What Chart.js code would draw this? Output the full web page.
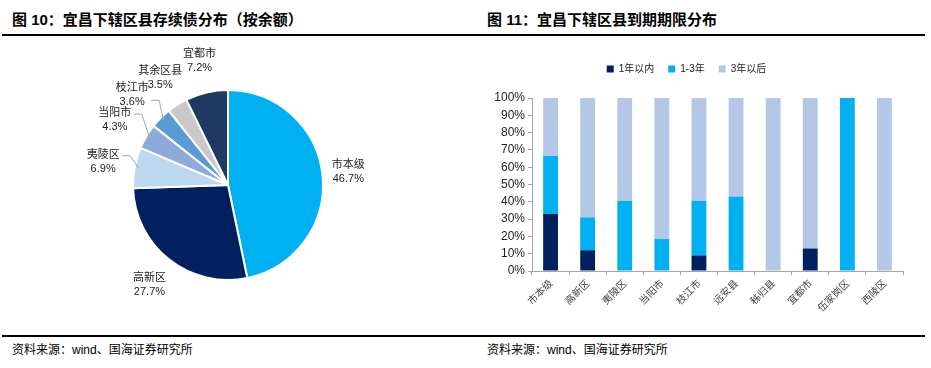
<!DOCTYPE html>
<html>
<head>
<meta charset="utf-8">
<script src="https://cdn.jsdelivr.net/npm/chart.js@4/dist/chart.umd.min.js"></script>
<style>
  body { margin: 0; background: #fff; width: 931px; height: 368px; position: relative; overflow: hidden;
         font-family: "Liberation Sans", "Noto Sans CJK SC", sans-serif; }
  .title { position: absolute; top: 8px; font-size: 15px; font-weight: bold; color: #000;
           font-family: "Liberation Sans", "Noto Sans CJK SC", sans-serif; }
  .src { position: absolute; top: 340px; font-size: 12px; color: #000; }
  .line { position: absolute; background: #000; }
  #pieBox { position: absolute; left: 0; top: 40px; width: 470px; height: 280px; }
  #barBox { position: absolute; left: 470px; top: 40px; width: 461px; height: 280px; }
</style>
</head>
<body>
<div class="title" style="left:12px">图 10：宜昌下辖区县存续债分布（按余额）</div>
<div class="title" style="left:487px">图 11：宜昌下辖区县到期期限分布</div>
<div class="line" style="left:2px; top:34px; width:923px; height:2px"></div>
<div class="line" style="left:2px; top:335px; width:923px; height:1.5px"></div>
<div class="src" style="left:12px">资料来源：wind、国海证券研究所</div>
<div class="src" style="left:487px">资料来源：wind、国海证券研究所</div>

<div id="pieBox"><canvas id="graficoPie"></canvas></div>
<div id="barBox"><canvas id="graficoBar"></canvas></div>

<script>
// 图10 存续债分布
const nomesPie = ['市本级', '高新区', '夷陵区', '当阳市', '枝江市', '其余区县', '宜都市'];
const valoresPie = [46.7, 27.7, 6.9, 4.3, 3.6, 3.5, 7.2];
const coresPie = ['#00B0F0', '#002060', '#BDD7EE', '#8EA9DB', '#5B9BD5', '#C9C9C9', '#203864'];

// 图11 到期期限分布
const categorias = ['市本级', '高新区', '夷陵区', '当阳市', '枝江市', '远安县', '秭归县', '宜都市', '伍家岗区', '西陵区'];
const ate1 = [33, 12, 0, 0, 9, 0, 0, 13, 0, 0];
const de1a3 = [33.5, 19, 40.5, 18.5, 31.5, 43, 0, 0, 100, 0];
const apos3 = [33.5, 69, 59.5, 81.5, 59.5, 57, 100, 87, 0, 100];
const ticksY = [0, 10, 20, 30, 40, 50, 60, 70, 80, 90, 100];

// rótulos do pie fora da fatia
const rotulosPie = {
  id: 'rotulosPie',
  afterDatasetsDraw(chart) {
    const ctx = chart.ctx;
    const arcs = chart.getDatasetMeta(0).data;
    ctx.save();
    arcs.forEach((arc, i) => {
      const mid = (arc.startAngle + arc.endAngle) / 2;
      const cx = arc.x, cy = arc.y, r = arc.outerRadius;
      const dx = Math.cos(mid), dy = Math.sin(mid);
      const lr = r + 32;
      const lx = cx + dx * lr - (i === 0 ? 6 : 0) - (i === 4 ? 6 : 0) - (i === 3 ? 4 : 0), ly = cy + dy * lr;
      // linha guia nas fatias pequenas
      if (i >= 2 && i <= 4) {
        const yl = i === 4 ? ly + 5 : ly - 6;
        const ex = cx + dx * (r - 4), ey = cy + dy * (r - 4);
        ctx.strokeStyle = '#A6A6A6';
        ctx.lineWidth = 1;
        ctx.beginPath();
        ctx.moveTo(lx + 19, yl);
        ctx.lineTo(lx + 27, yl);
        ctx.lineTo(ex, ey);
        ctx.stroke();
      }
      ctx.fillStyle = '#222';
      ctx.textAlign = 'center';
      ctx.textBaseline = 'middle';
      ctx.font = '11px "Noto Sans CJK SC", sans-serif';
      ctx.fillText(nomesPie[i], lx, ly - 8);
      ctx.font = '11px "Liberation Sans", sans-serif';
      ctx.fillText(valoresPie[i].toFixed(1) + '%', lx, ly + 7);
    });
    ctx.restore();
  }
};

const myPie = new Chart(document.getElementById('graficoPie'), {
  type: 'pie',
  data: {
    labels: nomesPie,
    datasets: [{
      data: valoresPie,
      backgroundColor: coresPie,
      borderColor: '#fff',
      borderWidth: 2,
    }]
  },
  options: {
    responsive: true,
    maintainAspectRatio: false,
    animation: false,
    layout: { padding: { left: 132, right: 146, top: 49, bottom: 39 } },
    plugins: { legend: { display: false }, tooltip: { enabled: false } }
  },
  plugins: [rotulosPie]
});

// espaço extra abaixo da legenda
const margemLegenda = {
  id: 'margemLegenda',
  beforeLayout(chart) {
    const lg = chart.legend;
    if (lg && !lg._margemOk) {
      const fitOrig = lg.fit.bind(lg);
      lg.fit = function () { fitOrig(); this.height += 14; };
      lg._margemOk = true;
    }
  }
};

const myBar = new Chart(document.getElementById('graficoBar'), {
  type: 'bar',
  data: {
    labels: categorias,
    datasets: [
      { label: '1年以内', data: ate1, backgroundColor: '#002060' },
      { label: '1-3年', data: de1a3, backgroundColor: '#00B0F0' },
      { label: '3年以后', data: apos3, backgroundColor: '#B4C7E7' },
    ]
  },
  options: {
    responsive: true,
    maintainAspectRatio: false,
    animation: false,
    barPercentage: 0.8,
    categoryPercentage: 0.5,
    layout: { padding: { left: 0, right: 28, top: 10, bottom: 0 } },
    plugins: {
      tooltip: { enabled: false },
      legend: {
        position: 'top',
        labels: {
          boxWidth: 7, boxHeight: 7, padding: 14,
          color: '#222',
          font: { size: 10, family: '"Liberation Sans", "Noto Sans CJK SC", sans-serif' }
        }
      }
    },
    scales: {
      x: {
        stacked: true,
        grid: { display: true, offset: true, drawOnChartArea: false, drawTicks: true, tickLength: 4, color: '#A6A6A6' },
        border: { color: '#A6A6A6', width: 1 },
        ticks: {
          minRotation: 45, maxRotation: 45, color: '#444', padding: 2, autoSkip: false,
          font: { size: 10, family: '"Noto Sans CJK SC", sans-serif' }
        },
        afterFit(scale) { scale.height = 49; }
      },
      y: {
        stacked: true,
        min: 0, max: 100,
        afterBuildTicks(scale) { scale.ticks = ticksY.map(v => ({ value: v })); },
        grid: { display: true, drawOnChartArea: false, drawTicks: true, tickLength: 4, color: '#A6A6A6' },
        border: { color: '#A6A6A6', width: 1 },
        ticks: {
          color: '#222', padding: 3, autoSkip: false,
          font: { size: 12, family: '"Liberation Sans", sans-serif' },
          callback: v => v + '%'
        },
        afterFit(scale) { scale.width = 62; }
      }
    }
  },
  plugins: [margemLegenda]
});
</script>
</body>
</html>
